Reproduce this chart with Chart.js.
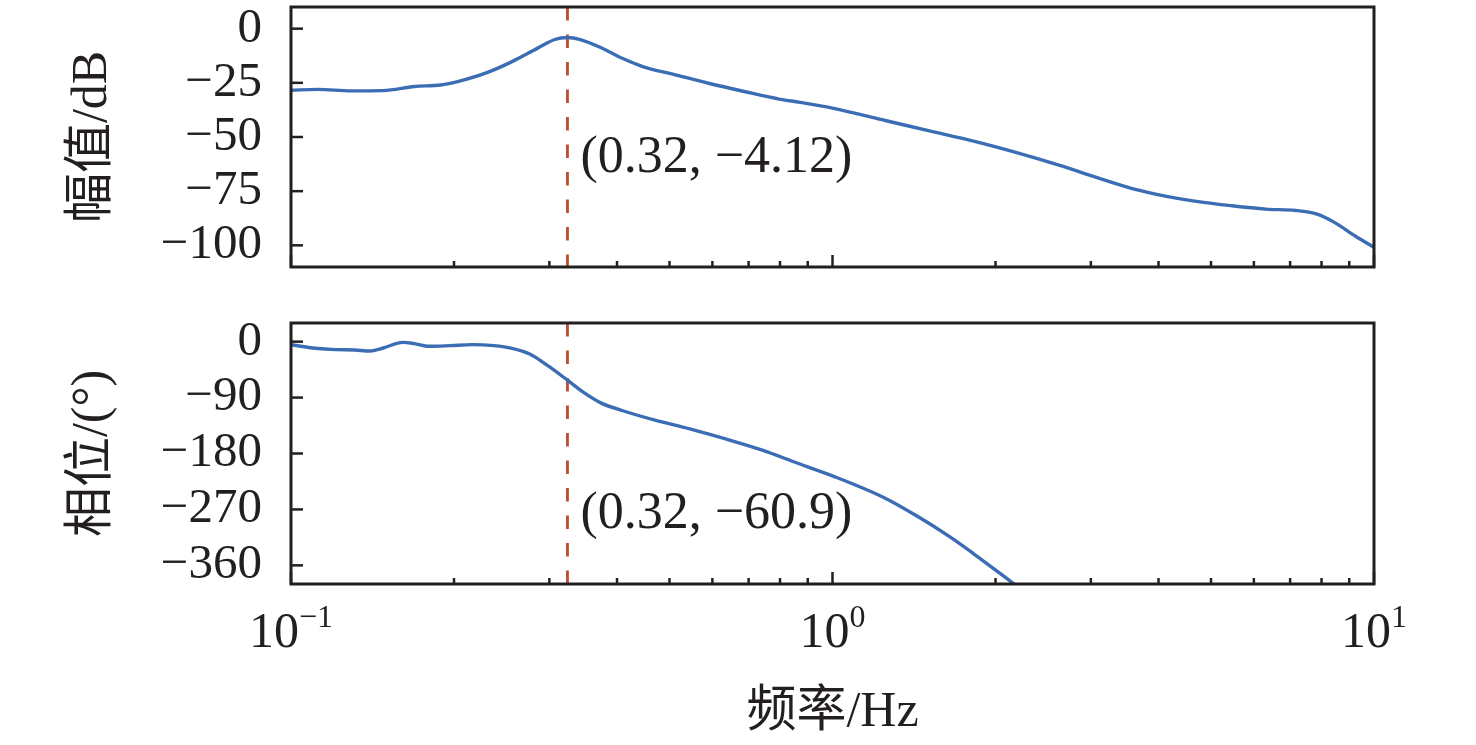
<!DOCTYPE html>
<html>
<head>
<meta charset="utf-8">
<script src="https://cdn.jsdelivr.net/npm/chart.js@4/dist/chart.umd.min.js"></script>
<style>
  html, body { margin: 0; padding: 0; background: #fff; }
  #wrap { position: relative; width: 1476px; height: 745px; }
  #wrap canvas { position: absolute; left: 0; }
</style>
</head>
<body>
<div id="wrap">
  <canvas id="canvas_mag" width="1476" height="280" style="top:0"></canvas>
  <canvas id="canvas_phase" width="1476" height="465" style="top:280px"></canvas>
</div>
<script>
// magnitude curve (Hz, dB)
let freqMag = [0.1, 0.112, 0.129, 0.148, 0.169, 0.189, 0.204, 0.230, 0.256, 0.285, 0.307, 0.324, 0.341, 0.374, 0.410, 0.449,
  0.507, 0.590, 0.687, 0.801, 0.871, 1.0, 1.257, 1.51, 1.814, 2.18, 2.62, 3.14, 3.64, 4.14, 4.70, 5.44, 6.31, 7.17, 7.85, 8.45, 9.26, 10];
let magDb = [-28.4, -28.0, -28.7, -28.6, -26.7, -26.0, -24.3, -20.3, -15.2, -9.1, -5.0, -4.1, -4.9, -8.8, -13.8, -17.7,
  -21.0, -25.2, -29.0, -32.6, -34.0, -36.7, -42.5, -47.2, -51.8, -57.1, -63.0, -69.4, -74.3, -77.4, -79.7, -81.7, -83.3, -83.9, -85.6, -89.4, -95.9, -100.9];

// phase curve (Hz, deg)
let freqPh = [0.1, 0.111, 0.121, 0.131, 0.140, 0.148, 0.161, 0.169, 0.180, 0.197, 0.216, 0.237, 0.256, 0.276, 0.298, 0.324,
  0.347, 0.374, 0.410, 0.470, 0.547, 0.637, 0.742, 0.865, 1.0, 1.246, 1.45, 1.64, 1.82, 1.99, 2.18, 2.3];
let phaseDeg = [-5.0, -10.7, -12.9, -13.4, -15.0, -10.2, -1.1, -3.2, -7.5, -6.4, -4.8, -6.4, -10.7, -19.9, -38.7, -62.0,
  -81.7, -98.9, -111.2, -126.3, -140.8, -156.9, -174.6, -196.1, -216.0, -251.2, -283.5, -313.1, -341.0, -366.0, -392.0, -407.0];

// marked peak
let markFreq = 0.324;
let markLabels = ["(0.32, \u22124.12)", "(0.32, \u221260.9)"];

// axes
let magRange = [-110, 10];
let phaseRange = [-390, 30];
let magTicks = [0, -25, -50, -75, -100];
let phaseTicks = [0, -90, -180, -270, -360];
let freqTicks = [0.1, 0.2, 0.3, 0.4, 0.5, 0.6, 0.7, 0.8, 0.9, 1, 2, 3, 4, 5, 6, 7, 8, 9, 10];
let freqLabels = [[0.1, "\u22121"], [1, "0"], [10, "1"]];

const INK = '#231f20';
const SERIF = '"Liberation Serif", "Noto Sans CJK SC", serif';

function minus(v) {
  return v < 0 ? '\u2212' + Math.abs(v) : '' + v;
}

function isDecade(v) {
  let l = Math.log10(v);
  return Math.abs(l - Math.round(l)) < 1e-6;
}

// frame, inward ticks, annotation text, x labels
const framePlugin = {
  id: 'frame',
  afterDatasetsDraw(chart, args, opts) {
    let ctx = chart.ctx;
    let a = chart.chartArea;
    let xs = chart.scales.x, ys = chart.scales.y;
    ctx.save();
    ctx.strokeStyle = INK;
    ctx.lineWidth = 2.5;
    ys.ticks.forEach(t => {
      let y = ys.getPixelForValue(t.value);
      ctx.beginPath();
      ctx.moveTo(a.left, y);
      ctx.lineTo(a.left + 12, y);
      ctx.stroke();
    });
    xs.ticks.forEach(t => {
      let x = xs.getPixelForValue(t.value);
      let len = isDecade(t.value) ? 12 : 6;
      ctx.beginPath();
      ctx.moveTo(x, a.bottom);
      ctx.lineTo(x, a.bottom - len);
      ctx.stroke();
    });
    ctx.lineWidth = 3;
    ctx.strokeRect(a.left, a.top, a.right - a.left, a.bottom - a.top);

    // annotation
    ctx.fillStyle = INK;
    ctx.font = '52px ' + SERIF;
    ctx.textAlign = 'left';
    ctx.textBaseline = 'alphabetic';
    ctx.fillText(opts.text, xs.getPixelForValue(markFreq) + 13, ys.getPixelForValue(opts.textAt));

    if (opts.xLabels) {
      freqLabels.forEach(([v, e]) => {
        let x = xs.getPixelForValue(v);
        ctx.font = '50px ' + SERIF;
        let w1 = ctx.measureText('10').width;
        ctx.font = '32px ' + SERIF;
        let w2 = ctx.measureText(e).width;
        let x0 = x - (w1 + w2) / 2;
        let base = a.bottom + 63;
        ctx.font = '50px ' + SERIF;
        ctx.fillText('10', x0, base);
        ctx.font = '32px ' + SERIF;
        ctx.fillText(e, x0 + w1, base - 20);
      });
    }
    ctx.restore();
  }
};

function makeChart(id, freqs, values, range, ticks, title, textAt, label, isBottom, padTop, xHeight) {
  let ctx = document.getElementById(id).getContext('2d');
  return new Chart(ctx, {
    type: 'line',
    data: {
      datasets: [{
        data: freqs.map((f, i) => ({x: f, y: values[i]})),
        borderColor: '#3b6db4',
        borderWidth: 3.4,
        pointRadius: 0,
        cubicInterpolationMode: 'monotone',
        fill: false,
      }, {
        data: [{x: markFreq, y: range[1]}, {x: markFreq, y: range[0]}],
        borderColor: '#bf4b2c',
        borderWidth: 2.8,
        borderDash: [13.5, 14],
        pointRadius: 0,
        fill: false,
      }]
    },
    options: {
      responsive: false,
      animation: false,
      devicePixelRatio: 1,
      layout: { padding: { top: padTop, right: 102, left: 0, bottom: 0 } },
      plugins: {
        legend: { display: false },
        tooltip: { enabled: false },
        frame: { text: label, textAt: textAt, xLabels: isBottom }
      },
      scales: {
        x: {
          type: 'logarithmic',
          min: 0.1,
          max: 10,
          grid: { display: false },
          border: { display: false },
          ticks: { display: false, autoSkip: false },
          afterBuildTicks: s => { s.ticks = freqTicks.map(v => ({value: v})); },
          afterFit: s => { s.height = xHeight; s.paddingLeft = 0; s.paddingRight = 0; },
          title: {
            display: isBottom,
            text: '频率/Hz',
            color: INK,
            font: { family: SERIF, size: 50 },
            padding: { top: 0, bottom: 2 }
          }
        },
        y: {
          min: range[0],
          max: range[1],
          grid: { display: false },
          border: { display: false },
          afterBuildTicks: s => { s.ticks = ticks.map(v => ({value: v})); },
          afterFit: s => { s.width = 291; s.paddingTop = 0; s.paddingBottom = 0; },
          ticks: {
            color: INK,
            padding: 21,
            autoSkip: false,
            font: { family: SERIF, size: 49 },
            callback: v => minus(v)
          },
          title: {
            display: true,
            text: title,
            color: INK,
            font: { family: SERIF, size: 50 },
            padding: { top: 63, bottom: 0 }
          }
        }
      }
    },
    plugins: [framePlugin]
  });
}

makeChart('canvas_mag', freqMag, magDb, magRange, magTicks, '幅值/dB', -66.2, markLabels[0], false, 7, 13);
makeChart('canvas_phase', freqPh, phaseDeg, phaseRange, phaseTicks, '相位/(°)', -299.6, markLabels[1], true, 43, 161);
</script>
</body>
</html>
